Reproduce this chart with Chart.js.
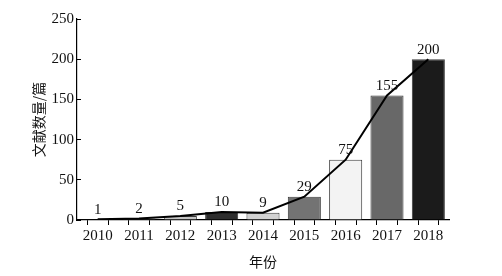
<!DOCTYPE html>
<html lang="zh">
<head>
<meta charset="UTF-8">
<title>文献数量</title>
<script src="https://cdn.jsdelivr.net/npm/chart.js"></script>
<style>
  body { margin: 0; background: #fff; }
  #wrap { width: 502px; height: 276px; }
</style>
</head>
<body>
<div id="wrap"><canvas id="grafico" width="502" height="276"></canvas></div>
<script>
const years = [2010, 2011, 2012, 2013, 2014, 2015, 2016, 2017, 2018];
const counts = [1, 2, 5, 10, 9, 29, 75, 155, 200];
const barColors = ['#333333', '#555555', '#c4c4c4', '#2e2e2e', '#d2d2d2', '#737373', '#f3f3f3', '#686868', '#1b1b1b'];

const serif = '"Liberation Serif", "Times New Roman", serif';
const cjk = '"Noto Sans CJK SC", sans-serif';

// numbers above the bars
const valueLabels = {
    id: 'valueLabels',
    afterDatasetsDraw(chart) {
        const ctx = chart.ctx;
        const x = chart.scales.x, y = chart.scales.y;
        ctx.save();
        ctx.font = '15px ' + serif;
        ctx.fillStyle = '#111';
        ctx.textAlign = 'center';
        ctx.textBaseline = 'bottom';
        years.forEach((yr, i) => {
            ctx.fillText(String(counts[i]), x.getPixelForValue(yr), y.getPixelForValue(counts[i]) - 2);
        });
        ctx.restore();
    }
};

new Chart(document.getElementById('grafico').getContext('2d'), {
    data: {
        datasets: [
            {
                type: 'line',
                data: years.map((yr, i) => ({ x: yr, y: counts[i] })),
                borderColor: '#000',
                borderWidth: 2,
                pointRadius: 0,
                tension: 0,
                order: 0
            },
            {
                type: 'bar',
                data: years.map((yr, i) => ({ x: yr, y: counts[i] })),
                backgroundColor: barColors,
                borderColor: '#3a3a3a',
                borderWidth: 1,
                // ruler spacing is the half-year tick step, so double it
                barPercentage: 0.8,
                categoryPercentage: 2,
                order: 1
            }
        ]
    },
    options: {
        responsive: false,
        animation: false,
        layout: { padding: { left: 30, right: 53, top: 19, bottom: 6 } },
        plugins: { legend: { display: false }, tooltip: { enabled: false } },
        scales: {
            x: {
                type: 'linear',
                offset: false,
                min: 2009.5,
                max: 2018.5,
                afterFit: s => { s.height = 50; },
                afterBuildTicks: s => {
                    s.ticks = [];
                    for (let k = 0; k <= years.length * 2; k++) s.ticks.push({ value: 2009.5 + k * 0.5 });
                },
                grid: { drawOnChartArea: false, tickLength: 5, color: '#000', tickColor: '#000' },
                border: { color: '#000', width: 1.2 },
                ticks: {
                    autoSkip: false,
                    maxRotation: 0,
                    padding: 2,
                    color: '#111',
                    font: { family: serif, size: 15 },
                    callback: v => Number.isInteger(v) ? String(v) : ''
                },
                title: { display: true, text: '年份', color: '#111', font: { family: cjk, size: 14 }, padding: 0 }
            },
            y: {
                min: 0,
                max: 250,
                afterFit: s => { s.width = 47; },
                grid: { drawOnChartArea: false, tickLength: -4, color: '#000', tickColor: '#000' },
                border: { color: '#000', width: 1.2 },
                ticks: {
                    stepSize: 25,
                    padding: 7,
                    color: '#111',
                    font: { family: serif, size: 15 },
                    callback: v => v % 50 === 0 ? String(v) : ''
                },
                title: { display: true, text: '文献数量/篇', color: '#111', font: { family: cjk, size: 14 }, padding: 0 }
            }
        }
    },
    plugins: [valueLabels]
});
</script>
</body>
</html>
